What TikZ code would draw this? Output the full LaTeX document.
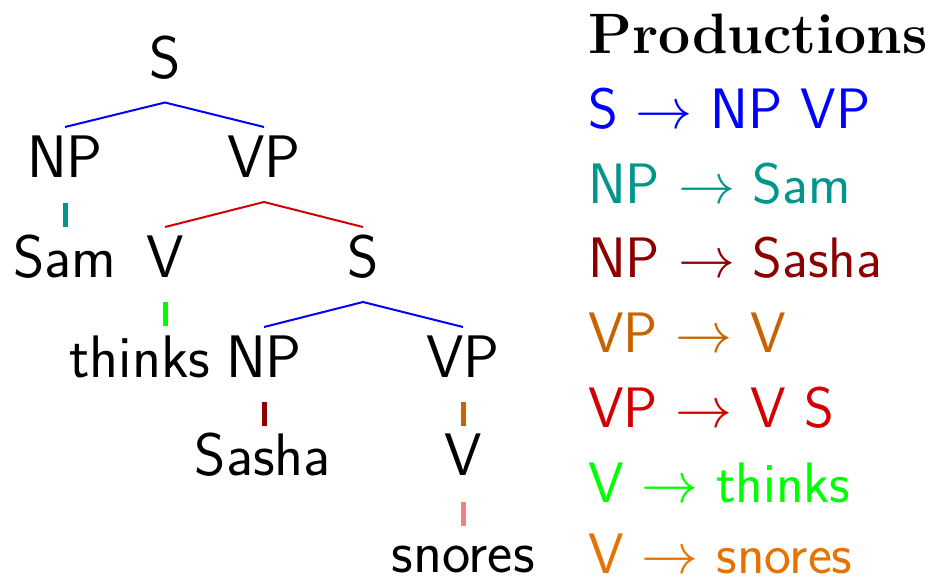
\RequirePackage{fix-cm}
\documentclass[tikz,border=0pt]{standalone}
\usetikzlibrary{calc}
\definecolor{cS}{RGB}{0,0,255}
\definecolor{cNPsam}{RGB}{0,150,140}
\definecolor{cNPsasha}{RGB}{140,0,0}
\definecolor{cVPv}{RGB}{200,100,0}
\definecolor{cVPvs}{RGB}{210,0,0}
\definecolor{cVthinks}{RGB}{0,255,0}
\definecolor{cVsnores}{RGB}{230,115,0}
\definecolor{cSnoresTick}{RGB}{240,130,130}
\begin{document}
\begin{tikzpicture}[x=1pt,y=-1pt,
  every node/.style={inner sep=0pt, font=\fontsize{60}{72}\selectfont\sffamily},
  tn/.style={anchor=base},
  pr/.style={anchor=base west, font=\fontsize{57}{68}\selectfont\sffamily},
  branch/.style={line width=2pt},
  tick/.style={line width=5pt}]
\useasboundingbox (0,0) rectangle (926,579);
% tree nodes
\node[tn] (S1) at (165,78) {S};
\node[tn] (NP1) at (65,177) {NP};
\node[tn] (VP1) at (264,177) {VP};
\node[tn] (Sam) at (65,277) {Sam};
\node[tn] (V1) at (165,277) {V};
\node[tn] (S2) at (363,277) {S};
\node[tn] (thinks) at (140,377) {thinks};
\node[tn] (NP2) at (264,377) {NP};
\node[tn] (VP2) at (463,377) {VP};
\node[tn] (Sasha) at (263,475) {Sasha};
\node[tn] (V2) at (463,475) {V};
\node[tn] (snores) at (463,572) {snores};
% edges
\draw[branch,cS] ($(NP1.base)+(0,-50)$) -- ($(S1.base)+(0,24.5)$) -- ($(VP1.base)+(0,-50)$);
\draw[tick,cNPsam] ($(NP1.base)+(0,25.5)$) -- ($(Sam.base)+(0,-50)$);
\draw[branch,cVPvs] ($(V1.base)+(0,-50)$) -- ($(VP1.base)+(0,25)$) -- ($(S2.base)+(0,-50)$);
\draw[tick,cVthinks] ($(V1.base)+(0,25)$) -- ($(V1.base)+(0,49)$);
\draw[branch,cS] ($(NP2.base)+(0,-50)$) -- ($(S2.base)+(0,25)$) -- ($(VP2.base)+(0,-50)$);
\draw[tick,cNPsasha] ($(NP2.base)+(0,25)$) -- ($(NP2.base)+(0,49)$);
\draw[tick,cVPv] ($(VP2.base)+(0,25)$) -- ($(VP2.base)+(0,49)$);
\draw[tick,cSnoresTick] ($(V2.base)+(0,27)$) -- ($(V2.base)+(0,51)$);
% productions
\node[pr,font=\fontsize{57}{68}\selectfont\rmfamily\bfseries] (title) at (588,53) {Productions};
\node[pr,text=cS] (p1) at (588,128) {S $\rightarrow$ NP VP};
\node[pr,text=cNPsam] (p2) at (588,203) {NP $\rightarrow$ Sam};
\node[pr,text=cNPsasha] (p3) at (588,277) {NP $\rightarrow$ Sasha};
\node[pr,text=cVPv] (p4) at (588,352) {VP $\rightarrow$ V};
\node[pr,text=cVPvs] (p5) at (588,427) {VP $\rightarrow$ V S};
\node[pr,text=cVthinks] (p6) at (588,502) {V $\rightarrow$ thinks};
\node[pr,text=cVsnores] (p7) at (588,573) {V $\rightarrow$ snores};
\end{tikzpicture}
\end{document}
